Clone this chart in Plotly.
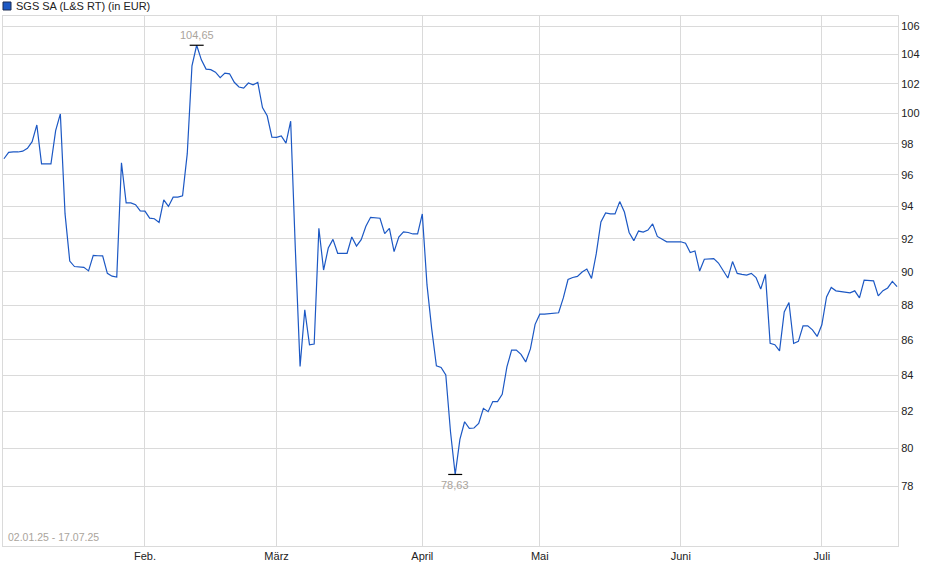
import math
import pandas as pd
import plotly.graph_objects as go

# ---- data ----
series_name = "SGS SA (L&S RT) (in EUR)"
start_date = "2025-01-02"
end_date = "2025-07-17"
missing_days = ["2025-04-18", "2025-04-19", "2025-04-20", "2025-04-21", "2025-04-27", "2025-05-01"]

jan = [97.03, 97.44, 97.47, 97.47, 97.52, 97.71, 98.14, 99.24, 96.70, 96.70,
       96.70, 98.86, 99.97, 93.53, 90.64, 90.31, 90.28, 90.26, 90.05, 90.98,
       90.96, 90.95, 89.90, 89.73, 89.68, 96.77, 94.22, 94.22, 94.11, 93.72]
feb = [93.70, 93.27, 93.23, 93.00, 94.41, 94.00, 94.58, 94.58, 94.66, 97.36,
       103.23, 104.65, 103.64, 103.00, 102.96, 102.79, 102.42, 102.73, 102.68, 102.10,
       101.78, 101.71, 102.05, 101.93, 102.09, 100.39, 99.85, 98.44]
mar = [98.42, 98.52, 98.05, 99.49, 91.31, 84.49, 87.74, 85.72, 85.77, 92.64,
       90.10, 91.43, 91.96, 91.11, 91.11, 91.11, 92.11, 91.55, 91.94, 92.76,
       93.32, 93.29, 93.26, 92.31, 92.63, 91.21, 92.10, 92.42, 92.38, 92.29, 92.29]
apr = [93.53, 89.21, 86.64, 84.53, 84.44, 84.02, 80.90, 78.63, 80.49, 81.44,
       81.08, 81.10, 81.35, 82.17, 81.99, 82.54, 82.54, 82.94, 84.47, 85.42,
       85.42, 85.18, 84.75, 85.49, 86.90]
may = [87.49, 87.49, 87.52, 87.52, 87.57, 88.44, 89.53, 89.65, 89.72, 89.98,
       90.16, 89.60, 91.07, 93.03, 93.59, 93.53, 93.53, 94.30, 93.65, 92.38,
       91.88, 92.47, 92.41, 92.53, 92.91, 92.14, 91.99, 91.81, 91.81, 91.81]
jun = [91.81, 91.72, 91.16, 91.25, 90.04, 90.75, 90.78, 90.79, 90.52, 90.07,
       89.62, 90.61, 89.90, 89.84, 89.80, 89.90, 89.65, 88.97, 89.84, 85.81,
       85.73, 85.38, 87.62, 88.17, 85.80, 85.92, 86.81, 86.81, 86.58, 86.20]
jul = [86.87, 88.50, 89.06, 88.86, 88.83, 88.81, 88.74, 88.86, 88.44, 89.50,
       89.47, 89.45, 88.56, 88.87, 89.03, 89.42, 89.11]

month_labels = ["Feb.", "März", "April", "Mai", "Juni", "Juli"]
month_first = ["2025-02-01", "2025-03-01", "2025-04-01", "2025-05-02", "2025-06-01", "2025-07-01"]
y_ticks = [78, 80, 82, 84, 86, 88, 90, 92, 94, 96, 98, 100, 102, 104, 106]
period_text = "02.01.25 - 17.07.25"

# ---- build ----
values = jan + feb + mar + apr + may + jun + jul
all_days = pd.date_range(start_date, end_date)
dates = [d.strftime("%Y-%m-%d") for d in all_days if d.strftime("%Y-%m-%d") not in missing_days]

imax = max(range(len(values)), key=lambda k: values[k])
imin = min(range(len(values)), key=lambda k: values[k])

def de(v):
    return f"{v:.2f}".replace(".", ",")

FONT = "Arial, Liberation Sans, sans-serif"
LINE = "#1c58c4"
GRID = "#dadada"
LABEL_GRAY = "#aaa49c"
TEXT = "#222222"

W, H = 940, 579
ML, MR, MT, MB = 3, 42, 16, 33
PW, PH = W - ML - MR, H - MT - MB

fig = go.Figure()
fig.add_trace(go.Scatter(x=dates, y=values, mode="lines", name=series_name,
                         line=dict(color=LINE, width=1.2), showlegend=False,
                         hoverinfo="skip"))
# extreme markers
fig.add_trace(go.Scatter(x=[dates[imax], dates[imin]], y=[values[imax], values[imin]],
                         mode="markers", showlegend=False, hoverinfo="skip",
                         marker=dict(symbol="line-ew", size=10,
                                     line=dict(color="#000000", width=1.2))))

# log axis: annotation y is given in log10 units
fig.add_annotation(x=dates[imax], y=math.log10(values[imax]), text=de(values[imax]),
                   showarrow=False, yshift=10, yref="y", xref="x",
                   font=dict(family=FONT, size=11, color=LABEL_GRAY))
fig.add_annotation(x=dates[imin], y=math.log10(values[imin]), text=de(values[imin]),
                   showarrow=False, yshift=-11, yref="y", xref="x",
                   font=dict(family=FONT, size=11, color=LABEL_GRAY))
fig.add_annotation(x=0, y=0, xref="paper", yref="paper", xanchor="left", yanchor="bottom",
                   xshift=3, yshift=1, text=period_text, showarrow=False,
                   font=dict(family=FONT, size=10.5, color=LABEL_GRAY))

# legend (square + name) above the plot, top-left
fig.add_shape(type="rect", xref="paper", yref="paper",
              x0=0, x1=8 / PW, y0=1 + 6 / PH, y1=1 + 14 / PH,
              fillcolor=LINE, line=dict(color="#1a2a50", width=1))
fig.add_annotation(x=0, y=1 + 10 / PH, xref="paper", yref="paper", xanchor="left",
                   yanchor="middle", xshift=11, text=series_name, showarrow=False,
                   font=dict(family=FONT, size=11, color=TEXT))

fig.update_layout(
    width=W, height=H,
    margin=dict(l=ML, r=MR, t=MT, b=MB, autoexpand=False),
    paper_bgcolor="white", plot_bgcolor="white",
    font=dict(family=FONT, size=11, color=TEXT),
    showlegend=False,
)
fig.update_xaxes(type="category", range=[-0.2, len(values) - 0.8],
                 tickmode="array", tickvals=month_first, ticktext=month_labels,
                 showgrid=True, gridcolor=GRID, gridwidth=1,
                 showline=True, linecolor=GRID, mirror=True, ticks="",
                 tickfont=dict(family=FONT, size=11, color=TEXT),
                 zeroline=False, automargin=False)
fig.update_yaxes(type="log", side="right", range=[1.8749, 2.0282],
                 tickmode="array", tickvals=y_ticks, ticktext=[str(t) for t in y_ticks],
                 showgrid=True, gridcolor=GRID, gridwidth=1,
                 showline=True, linecolor=GRID, mirror=True, ticks="",
                 tickfont=dict(family=FONT, size=11, color=TEXT),
                 zeroline=False, automargin=False)

fig.write_html("out.html", config={"displayModeBar": False},
               post_script="document.body.style.margin='0';")
